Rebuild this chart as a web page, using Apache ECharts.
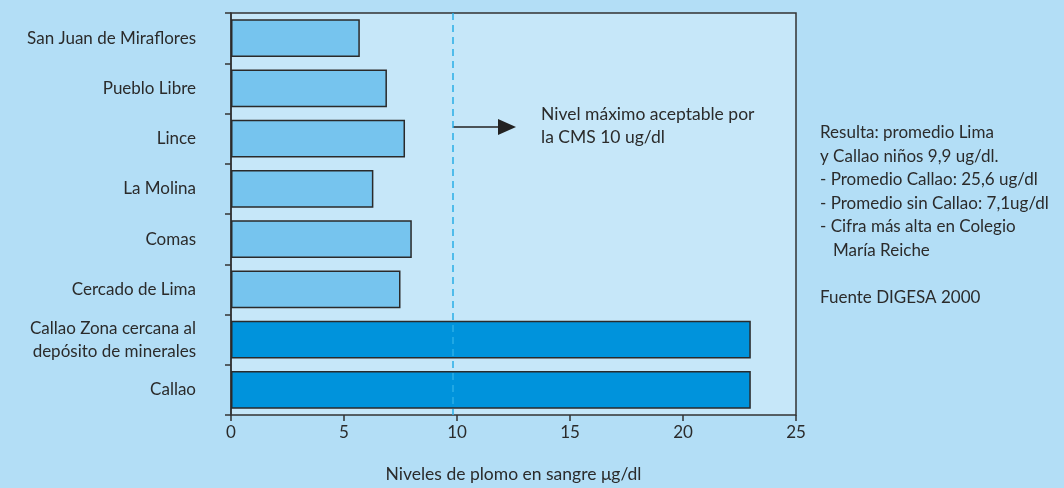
<!DOCTYPE html>
<html>
<head>
<meta charset="utf-8">
<script src="https://cdn.jsdelivr.net/npm/echarts@6/dist/echarts.min.js"></script>
<style>
  html, body { margin: 0; padding: 0; background: #b3def6; }
  #main { width: 1064px; height: 488px; }
</style>
</head>
<body>
<div id="main"></div>
<script>
// datos
const districts = ['San Juan de Miraflores', 'Pueblo Libre', 'Lince', 'La Molina', 'Comas',
  'Cercado de Lima', 'Callao Zona cercana al\ndepósito de minerales', 'Callao']
const leadLevels = [5.7, 6.9, 7.7, 6.3, 8.0, 7.5, 23.0, 23.0]
const callaoGroup = [false, false, false, false, false, false, true, true]
const limitValue = 9.8
const xTicks = [0, 5, 10, 15, 20, 25]

const font = 'Lato, "Open Sans", sans-serif'
const ink = '#2b2b2b'

var chart = echarts.init(document.getElementById('main'))

var option = {
  backgroundColor: '#b3def6',
  textStyle: { fontFamily: font, color: ink },
  grid: {
    left: 231, right: 268, top: 13, bottom: 72,
    show: true, backgroundColor: '#c6e7f9',
    borderColor: '#333', borderWidth: 1.5
  },
  xAxis: {
    type: 'value',
    min: xTicks[0], max: xTicks[xTicks.length - 1], interval: 5,
    name: 'Niveles de plomo en sangre μg/dl',
    nameLocation: 'middle', nameGap: 50,
    nameTextStyle: { fontFamily: font, fontSize: 17.5, color: ink },
    axisLine: { lineStyle: { color: '#333', width: 1.5 } },
    axisTick: { show: true, length: 6, lineStyle: { color: '#333', width: 1.5 } },
    axisLabel: { fontFamily: font, fontSize: 17, color: ink, margin: 9 },
    splitLine: { show: false }
  },
  yAxis: {
    type: 'category',
    inverse: true,
    data: districts,
    axisLine: { lineStyle: { color: '#333', width: 1.5 } },
    axisTick: { show: true, length: 6, lineStyle: { color: '#333', width: 1.5 } },
    axisLabel: { fontFamily: font, fontSize: 17, color: ink, margin: 35, lineHeight: 23, align: 'right' }
  },
  series: [{
    type: 'bar',
    data: leadLevels,
    barCategoryGap: '25%',
    itemStyle: {
      color: function (p) { return callaoGroup[p.dataIndex] ? '#0093dc' : '#76c4ee' },
      borderColor: '#2a2a2a', borderWidth: 1.5
    },
    markLine: {
      silent: true,
      symbol: 'none',
      label: { show: false },
      lineStyle: { color: '#2aaee6', type: [7, 5], width: 1.5 },
      data: [{ xAxis: limitValue }]
    }
  }],
  graphic: [
    // flecha
    { type: 'line', shape: { x1: 453, y1: 127, x2: 500, y2: 127 }, style: { stroke: '#222', lineWidth: 1.5 } },
    { type: 'polygon', shape: { points: [[498, 119], [516, 127], [498, 135]] }, style: { fill: '#222' } },
    {
      type: 'text', left: 541, top: 103,
      style: { text: 'Nivel máximo aceptable por\nla CMS 10 ug/dl', font: '17.5px ' + font, fill: ink, lineHeight: 23 }
    },
    {
      type: 'text', left: 820, top: 121,
      style: {
        text: 'Resulta: promedio Lima\ny Callao niños 9,9 ug/dl.\n- Promedio Callao: 25,6 ug/dl\n- Promedio sin Callao: 7,1ug/dl\n- Cifra más alta en Colegio\n   María Reiche\n\nFuente DIGESA 2000',
        font: '17px ' + font, fill: ink, lineHeight: 23.5
      }
    }
  ]
}

option && chart.setOption(option)
</script>
</body>
</html>
